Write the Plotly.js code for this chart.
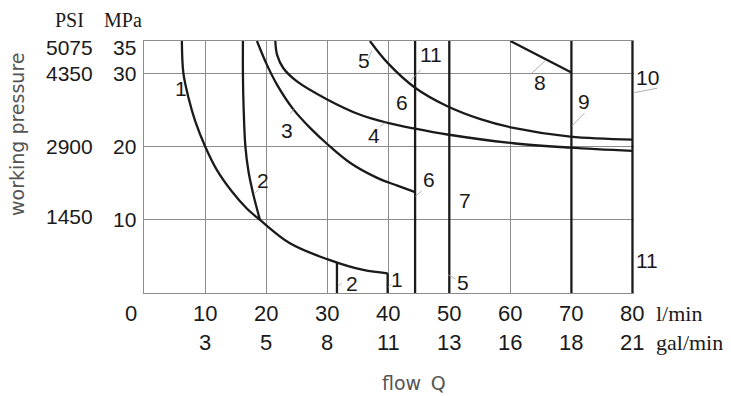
<!DOCTYPE html>
<html>
<head>
<meta charset="utf-8">
<script src="https://cdn.plot.ly/plotly-3.0.1.min.js"></script>
<style>
  html, body { margin: 0; padding: 0; background: #fff; }
  #graph { width: 731px; height: 396px; }
</style>
</head>
<body>
<div id="graph"></div>
<script>
// flow axis (l/min) and matching gal/min labels
const lpmTicks = [0, 10, 20, 30, 40, 50, 60, 70, 80];
const galTicks = ['', '3', '5', '8', '11', '13', '16', '18', '21'];

// pressure axis: MPa and PSI labels
const mpaTicks = [10, 20, 30, 35];
const psiTicks = ['1450', '2900', '4350', '5075'];

const yTop = 34.5;  // top edge of the chart frame (MPa)
const xMax = 80.25; // right edge of the x range

// characteristic curves (flow l/min, pressure MPa)
const curve1Q = [6.2, 6.45, 7.3, 8.4, 10.0, 11.9, 14.4, 16.8, 19.0, 23.9, 30.1, 35.9, 39.9];
const curve1P = [34.5, 30.1, 26.7, 23.5, 20.1, 16.9, 13.9, 11.6, 10.0, 6.8, 4.6, 3.15, 2.7];

const curve2Q = [16.2, 16.2, 16.3, 16.6, 17.1, 17.9, 19.0];
const curve2P = [34.5, 30, 25.8, 20.1, 16.7, 13.5, 10.0];

const curve3Q = [18.5, 20.1, 21.8, 24.5, 27.2, 30.0, 33.8, 38.1, 41.5, 44.4];
const curve3P = [34.5, 31.3, 28.5, 25.1, 22.6, 20.4, 17.8, 15.8, 14.7, 13.8];

const curve4Q = [21.5, 21.8, 22.8, 25.0, 30.0, 35.4, 39.9, 44.4, 49.7, 60.5, 69.8, 80];
const curve4P = [34.5, 32.6, 30.8, 29.0, 26.5, 24.4, 23.3, 22.5, 21.7, 20.5, 19.9, 19.45];

const curve5Q = [37.0, 39.9, 44.4, 49.6, 55.1, 60.5, 69.8, 80];
const curve5P = [34.5, 31.5, 28.1, 25.6, 23.8, 22.6, 21.4, 21.0];

const curve8Q = [60, 70];
const curve8P = [34.5, 30.2];

// vertical limit lines: flow value, pressure from / to
const dropQ = [31.6, 39.9, 44.4, 50, 70, 80];
const dropFrom = [4.15, 2.7, 0, 0, 0, 0];
const dropTo = [0, 0, yTop, yTop, yTop, yTop];

// curve number labels
const labelText = ['1', '2', '3', '4', '5', '11', '6', '6', '7', '8', '9', '10', '11', '5', '1', '2'];
const labelQ = [6.1, 19.5, 23.5, 37.6, 36.0, 47.0, 42.2, 46.6, 52.6, 64.8, 72.1, 82.4, 82.4, 52.3, 41.4, 34.0];
const labelP = [28.0, 15.4, 22.3, 21.5, 31.8, 32.6, 26.1, 15.5, 12.7, 28.8, 26.2, 29.5, 4.5, 1.5, 1.8, 1.3];

// thin leader lines: point on the curve and pixel offset toward the label
const leaderQ = [18.2, 24.6, 39.5, 37.3, 43.6, 44.4, 65.7, 70.1, 80.1, 49.8, 39.95, 31.8];
const leaderP = [13.7, 25.2, 23.3, 33.2, 29.0, 13.2, 31.8, 22.9, 27.4, 2.5, 0.8, 0.9];
const leaderDx = [5, -5, -7, -4, 12, 8, -15, 14, 26, 9, 5, 5];
const leaderDy = [-5, 6, 5, 10, -13, -7, 14, -14, -5, 5, -4, -5];

const ink = '#1a1a1a';
const gridGray = '#8c8c8c';
const sans = 'Liberation Sans, Arial, sans-serif';
const serif = 'Liberation Serif, Times New Roman, serif';

const plotWidth = 490;
const pxPerQ = plotWidth / xMax;

function curve(q, p) {
    return {
        x: q, y: p, type: 'scatter', mode: 'lines',
        line: { color: ink, width: 2.3, shape: 'spline', smoothing: 1 },
        hoverinfo: 'skip'
    };
}

const traces = [
    curve(curve1Q, curve1P),
    curve(curve2Q, curve2P),
    curve(curve3Q, curve3P),
    curve(curve4Q, curve4P),
    curve(curve5Q, curve5P),
    {
        x: curve8Q, y: curve8P, type: 'scatter', mode: 'lines',
        line: { color: ink, width: 2.3 }, hoverinfo: 'skip'
    }
];

dropQ.forEach((q, i) => {
    traces.push({
        x: [q, q], y: [dropFrom[i], dropTo[i]], type: 'scatter', mode: 'lines',
        line: { color: ink, width: 2.3 }, hoverinfo: 'skip'
    });
});

const annotations = [];

// curve labels (labels right of the frame are pinned to the edge and shifted)
labelText.forEach((t, i) => {
    const q = labelQ[i];
    const outside = q > xMax;
    annotations.push({
        x: outside ? 80 : q, y: labelP[i], xref: 'x', yref: 'y', text: t, showarrow: false,
        xshift: outside ? (q - 80) * pxPerQ : 0,
        xanchor: 'center', yanchor: 'middle',
        font: { family: sans, size: 21, color: ink }
    });
});

// leaders
leaderQ.forEach((q, i) => {
    annotations.push({
        x: q, y: leaderP[i], xref: 'x', yref: 'y', text: '', showarrow: true,
        arrowhead: 0, arrowwidth: 0.8, arrowcolor: '#9a9a9a', standoff: 0,
        ax: leaderDx[i], ay: leaderDy[i]
    });
});

// flow tick labels, two rows
lpmTicks.forEach((q, i) => {
    annotations.push({
        x: q, y: 0, xref: 'x', yref: 'paper', text: String(q), showarrow: false,
        xanchor: 'center', yanchor: 'middle', yshift: -20, xshift: q === 0 ? -13 : 0,
        font: { family: sans, size: 22, color: ink }
    });
    if (galTicks[i]) {
        annotations.push({
            x: q, y: 0, xref: 'x', yref: 'paper', text: galTicks[i], showarrow: false,
            xanchor: 'center', yanchor: 'middle', yshift: -49,
            font: { family: sans, size: 22, color: ink }
        });
    }
});

// pressure tick labels, MPa and PSI columns
mpaTicks.forEach((p, i) => {
    const atTop = p > yTop;
    annotations.push({
        x: 0, y: Math.min(p, yTop), xref: 'paper', yref: 'y', text: String(p), showarrow: false,
        xanchor: 'right', yanchor: 'middle', xshift: -6, yshift: atTop ? -6 : 0,
        font: { family: sans, size: 21, color: ink }
    });
    annotations.push({
        x: 0, y: Math.min(p, yTop), xref: 'paper', yref: 'y', text: psiTicks[i], showarrow: false,
        xanchor: 'right', yanchor: 'middle', xshift: -49, yshift: atTop ? -6 : (p === 10 ? 3 : 0),
        font: { family: sans, size: 21, color: ink }
    });
});

// unit headers and axis titles
annotations.push(
    { x: 0, y: 1, xref: 'paper', yref: 'paper', text: 'PSI', showarrow: false,
      xanchor: 'center', yanchor: 'middle', xshift: -75, yshift: 21,
      font: { family: serif, size: 20, color: ink } },
    { x: 0, y: 1, xref: 'paper', yref: 'paper', text: 'MPa', showarrow: false,
      xanchor: 'center', yanchor: 'middle', xshift: -21, yshift: 21,
      font: { family: serif, size: 20, color: ink } },
    { x: 80, y: 0, xref: 'x', yref: 'paper', text: 'l/min', showarrow: false,
      xanchor: 'left', yanchor: 'middle', xshift: 22, yshift: -20,
      font: { family: serif, size: 22, color: ink } },
    { x: 80, y: 0, xref: 'x', yref: 'paper', text: 'gal/min', showarrow: false,
      xanchor: 'left', yanchor: 'middle', xshift: 22, yshift: -49,
      font: { family: serif, size: 22, color: ink } },
    { x: 0, y: 0.627, xref: 'paper', yref: 'paper', text: 'working pressure', showarrow: false,
      xanchor: 'center', yanchor: 'middle', xshift: -127, textangle: -90,
      font: { family: 'DejaVu Sans, sans-serif', size: 19, color: '#555' } },
    { x: 0.552, y: 0, xref: 'paper', yref: 'paper', text: 'flow\u2002Q', showarrow: false,
      xanchor: 'center', yanchor: 'middle', yshift: -90,
      font: { family: 'DejaVu Sans, sans-serif', size: 19, color: '#555' } }
);

const layout = {
    width: 731,
    height: 396,
    margin: { l: 144, r: 731 - 144 - plotWidth, t: 41, b: 103 },
    paper_bgcolor: '#fff',
    plot_bgcolor: '#fff',
    showlegend: false,
    hovermode: false,
    xaxis: {
        range: [0, xMax],
        tickvals: lpmTicks.slice(1, -1),
        showticklabels: false,
        ticks: '',
        showgrid: true, gridcolor: gridGray, gridwidth: 1,
        zeroline: false,
        showline: true, mirror: true, linecolor: gridGray, linewidth: 1
    },
    yaxis: {
        range: [0, yTop],
        tickvals: mpaTicks.filter(v => v < yTop),
        showticklabels: false,
        ticks: '',
        showgrid: true, gridcolor: gridGray, gridwidth: 1,
        zeroline: false,
        showline: true, mirror: false, linecolor: gridGray, linewidth: 1
    },
    annotations: annotations
};

Plotly.newPlot('graph', traces, layout, { staticPlot: true, displayModeBar: false });
</script>
</body>
</html>
